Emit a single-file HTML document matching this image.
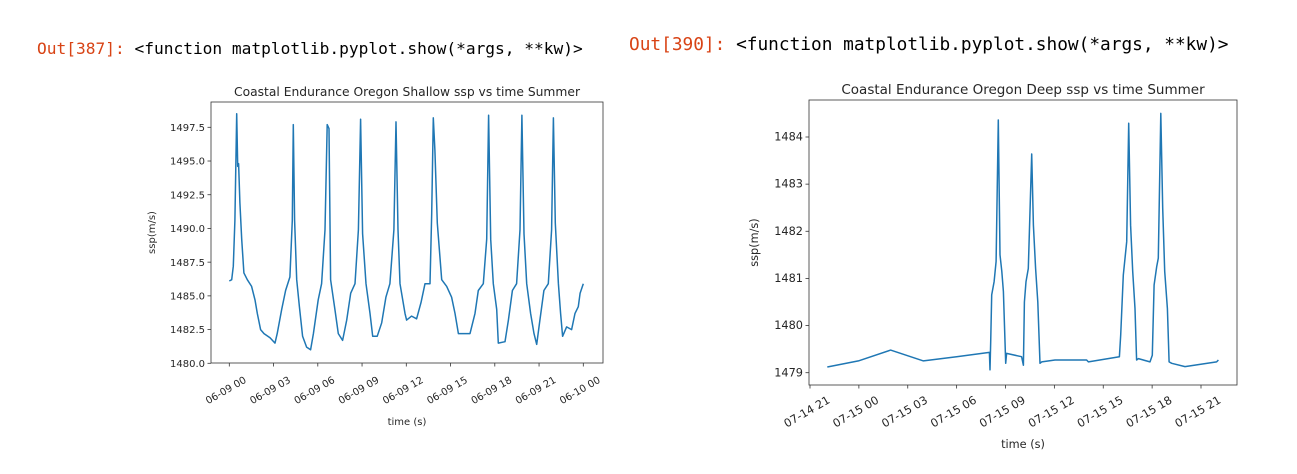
<!DOCTYPE html>
<html><head><meta charset="utf-8"><style>
body{margin:0;background:#fff;width:1297px;height:474px;overflow:hidden;position:relative;font-family:"DejaVu Sans","Liberation Sans",sans-serif}
.out{position:absolute;font-family:"DejaVu Sans Mono","Liberation Mono",monospace;white-space:pre}
.out .p{color:#d84315}
</style></head><body>
<div class="out" style="left:37px;top:39px;font-size:16.2px"><span class="p">Out[387]:</span> &lt;function matplotlib.pyplot.show(*args, **kw)&gt;</div>
<div class="out" style="left:629px;top:34px;font-size:17.8px"><span class="p">Out[390]:</span> &lt;function matplotlib.pyplot.show(*args, **kw)&gt;</div>
<svg id="svg" width="1297" height="474" style="position:absolute;left:0;top:0"></svg>
<script>
// Left chart data (hours since 06-09 00)
const shallowHours=[0,.16,.27,.38,.5,.57,.63,.72,.84,.99,1.22,1.51,1.74,1.9,2.12,2.35,2.76,3.1,3.25,3.55,3.82,4.11,4.27,4.34,4.43,4.57,4.75,4.97,5.24,5.51,5.7,6.03,6.26,6.49,6.64,6.76,6.87,7.16,7.39,7.68,7.96,8.23,8.52,8.75,8.9,9.04,9.27,9.54,9.72,10.03,10.33,10.62,10.89,11.16,11.3,11.44,11.57,11.91,12.02,12.36,12.7,13.0,13.27,13.61,13.72,13.83,13.94,14.1,14.4,14.74,15.07,15.3,15.53,15.91,16.32,16.66,16.88,17.22,17.45,17.58,17.72,17.9,18.13,18.24,18.69,18.92,19.19,19.48,19.71,19.84,19.98,20.16,20.43,20.66,20.84,21.06,21.33,21.63,21.85,21.97,22.1,22.31,22.46,22.6,22.87,23.21,23.44,23.66,23.78,24];
const shallowSsp=[1486.1,1486.2,1487.2,1490.6,1498.5,1494.6,1494.8,1491.9,1489.2,1486.7,1486.2,1485.7,1484.7,1483.7,1482.5,1482.2,1481.9,1481.5,1482.2,1484.0,1485.4,1486.4,1490.6,1497.7,1490.6,1486.2,1484.2,1482.0,1481.2,1481.0,1482.2,1484.7,1485.9,1489.9,1497.7,1497.4,1486.2,1484.0,1482.2,1481.7,1483.2,1485.2,1485.9,1489.9,1498.1,1489.6,1485.9,1483.7,1482.0,1482.0,1483.0,1484.9,1485.9,1489.9,1497.9,1489.9,1485.9,1483.7,1483.2,1483.5,1483.3,1484.5,1485.9,1485.9,1491.1,1498.2,1495.8,1490.4,1486.2,1485.7,1484.9,1483.7,1482.2,1482.2,1482.2,1483.7,1485.4,1485.9,1489.2,1498.4,1489.2,1485.9,1484.0,1481.5,1481.6,1483.2,1485.4,1485.9,1489.9,1498.4,1489.6,1485.9,1483.7,1482.2,1481.4,1483.2,1485.4,1485.9,1489.9,1498.2,1490.4,1485.9,1483.7,1482.0,1482.7,1482.5,1483.7,1484.2,1485.2,1485.9];
const shallowYTicks=[1480.0,1482.5,1485.0,1487.5,1490.0,1492.5,1495.0,1497.5];
const shallowXTickHours=[0,3,6,9,12,15,18,21,24];
const shallowXTickLabels=["06-09 00","06-09 03","06-09 06","06-09 09","06-09 12","06-09 15","06-09 18","06-09 21","06-10 00"];
// Right chart data (hours since 07-14 21)
const deepHours=[1.06,2.97,4.95,6.96,9.0,11.01,11.05,11.09,11.15,11.3,11.42,11.56,11.66,11.77,11.87,12.01,12.07,12.99,13.1,13.16,13.26,13.4,13.61,13.71,13.85,13.98,14.12,14.22,15.04,16.98,17.09,18.99,19.07,19.23,19.44,19.56,19.68,19.81,19.95,20.05,20.16,20.87,21.01,21.12,21.28,21.38,21.53,21.65,21.77,21.94,22.04,22.2,23.02,24.96,25.07];
const deepSsp=[1479.12,1479.25,1479.48,1479.25,1479.34,1479.43,1479.06,1479.66,1480.65,1480.93,1481.36,1484.36,1481.5,1481.15,1480.72,1479.2,1479.41,1479.34,1479.16,1480.5,1480.93,1481.21,1483.64,1482.13,1481.21,1480.5,1479.2,1479.23,1479.27,1479.27,1479.23,1479.34,1479.8,1481.07,1481.78,1484.29,1482.13,1481.15,1480.36,1479.27,1479.3,1479.23,1479.37,1480.86,1481.25,1481.43,1484.5,1482.49,1481.15,1480.36,1479.23,1479.2,1479.13,1479.23,1479.27];
const deepYTicks=[1479,1480,1481,1482,1483,1484];
const deepXTickHours=[0,3,6,9,12,15,18,21,24];
const deepXTickLabels=["07-14 21","07-15 00","07-15 03","07-15 06","07-15 09","07-15 12","07-15 15","07-15 18","07-15 21"];

const NS="http://www.w3.org/2000/svg";
const svg=document.getElementById('svg');
function mk(tag,attrs,parent){const e=document.createElementNS(NS,tag);for(const k in attrs)e.setAttribute(k,attrs[k]);(parent||svg).appendChild(e);return e;}

function chart(cfg){
  const g=mk('g',{});
  
  
  const sx=h=>cfg.x0+(h-cfg.h0)*(cfg.x1-cfg.x0)/(cfg.h1-cfg.h0);
  const sy=v=>cfg.y0+(v-cfg.v0)*(cfg.y1-cfg.y0)/(cfg.v1-cfg.v0);
  const t=mk('text',{x:(cfg.L+cfg.R)/2,y:cfg.T-6,'text-anchor':'middle','font-size':cfg.tfs,fill:'#262626'},g);
  t.textContent=cfg.title;
  
  
  cfg.yTicks.forEach(v=>{
    const y=sy(v);
    const l=mk('line',{x1:cfg.L-3.5,x2:cfg.L,y1:y,y2:y,stroke:'#333','stroke-width':0.8},g);
    
    
    const tx=mk('text',{x:cfg.L-6,y:y+3.6,'text-anchor':'end','font-size':cfg.fs,fill:'#262626'},g);
    tx.textContent=cfg.yFmt(v);
    
    
  });
  cfg.xTicks.forEach((h,i)=>{
    const x=sx(h);
    const l=mk('line',{x1:x,x2:x,y1:cfg.B,y2:cfg.B+3.5,stroke:'#333','stroke-width':0.8},g);
    
    
    const cx=x-3, cy=cfg.B+cfg.lblOff;
    const tx=mk('text',{x:cx,y:cy,'text-anchor':'middle','dominant-baseline':'central','font-size':cfg.fs,fill:'#262626',transform:`rotate(-30 ${cx} ${cy})`},g);
    tx.textContent=cfg.xLabels[i];
    
    
  });
  const pts=cfg.hours.map((h,i)=>sx(h).toFixed(1)+','+sy(cfg.vals[i]).toFixed(1)).join(' ');
  const pl=mk('polyline',{points:pts,fill:'none',stroke:'#1f77b4','stroke-width':1.5,'stroke-linejoin':'round'},g);
  
  
  const r=mk('rect',{x:cfg.L,y:cfg.T,width:cfg.R-cfg.L,height:cfg.B-cfg.T,fill:'none',stroke:'#333','stroke-width':0.8},g);
  
  
  const xl=mk('text',{x:(cfg.L+cfg.R)/2,y:cfg.xlY,'text-anchor':'middle','font-size':cfg.fs,fill:'#262626'},g);
  xl.textContent='time (s)';
  
  
  const yl=mk('text',{x:cfg.ylX,y:(cfg.T+cfg.B)/2,'text-anchor':'middle','font-size':cfg.fs,fill:'#262626',transform:`rotate(-90 ${cfg.ylX} ${(cfg.T+cfg.B)/2})`},g);
  yl.textContent='ssp(m/s)';
  
  
}

chart({name:'shallow-chart',title:'Coastal Endurance Oregon Shallow ssp vs time Summer',
  L:211,R:603,T:102,B:363,x0:229.3,x1:583.3,h0:0,h1:24,y0:363.3,y1:127.3,v0:1480,v1:1497.5,
  hours:shallowHours,vals:shallowSsp,yTicks:shallowYTicks,xTicks:shallowXTickHours,xLabels:shallowXTickLabels,
  yFmt:v=>v.toFixed(1),fs:10,tfs:12.3,xlY:425,ylX:155,lblOff:28});
chart({name:'deep-chart',title:'Coastal Endurance Oregon Deep ssp vs time Summer',
  L:809,R:1237,T:100,B:385,x0:810,x1:1201,h0:0,h1:24,y0:372.7,y1:137,v0:1479,v1:1484,
  hours:deepHours,vals:deepSsp,yTicks:deepYTicks,xTicks:deepXTickHours,xLabels:deepXTickLabels,
  yFmt:v=>String(v),fs:11.3,tfs:13.5,xlY:448,ylX:758,lblOff:27});
</script>
</body></html>
